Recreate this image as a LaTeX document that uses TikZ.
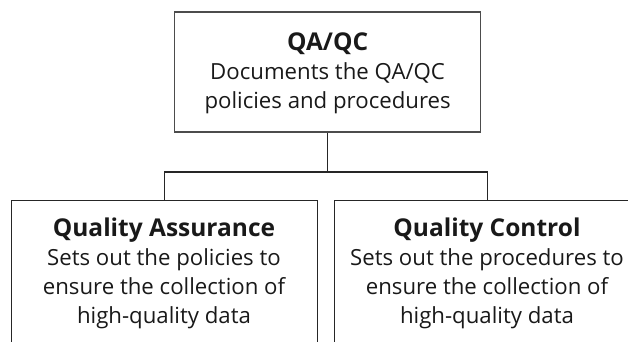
\documentclass[tikz,border=0pt]{standalone}
\usepackage{fontspec}
\setmainfont{Open Sans}
\newcommand{\boxhead}[1]{{\fontsize{24.5}{29}\selectfont\bfseries #1}}
\begin{document}
\begin{tikzpicture}[x=1pt,y=-1pt,
  box/.style={draw=black!85, line width=1.4pt, rectangle, inner sep=0pt,
    minimum width=306pt},
  wire/.style={draw=black!85, line width=1.4pt},
  txt/.style={font=\fontsize{22.2}{29}\selectfont, text=black!90,
    align=center, inner sep=0pt},
  ]
\useasboundingbox (0,0) rectangle (628,341);
\clip (0,0) rectangle (628,341);

% top box
\node[box, draw=black!70, minimum height=120pt] (top) at (327.6,72) {};
\node[txt, anchor=base] (toptxt) at (327.6,108)
  {\boxhead{QA/QC}\\Documents the QA/QC\\policies and procedures};

% lower boxes (run past the lower edge)
\node[box, anchor=north west, minimum height=200pt] (qa) at (11,200) {};
\node[box, anchor=north west, minimum height=200pt] (qc) at (334,200) {};
\node[txt, anchor=base] (qatxt) at (164,323)
  {\boxhead{Quality Assurance}\\Sets out the policies to\\ensure the collection of\\high-quality data};
\node[txt, anchor=base] (qctxt) at (487,323)
  {\boxhead{Quality Control}\\Sets out the procedures to\\ensure the collection of\\high-quality data};

% connectors
\path (qa.north) ++(0,-28) coordinate (bus);
\draw[wire] (top.south) -- (top.south |- bus);
\draw[wire] (qa.north) -- (bus) -| (qc.north);
\end{tikzpicture}
\end{document}
